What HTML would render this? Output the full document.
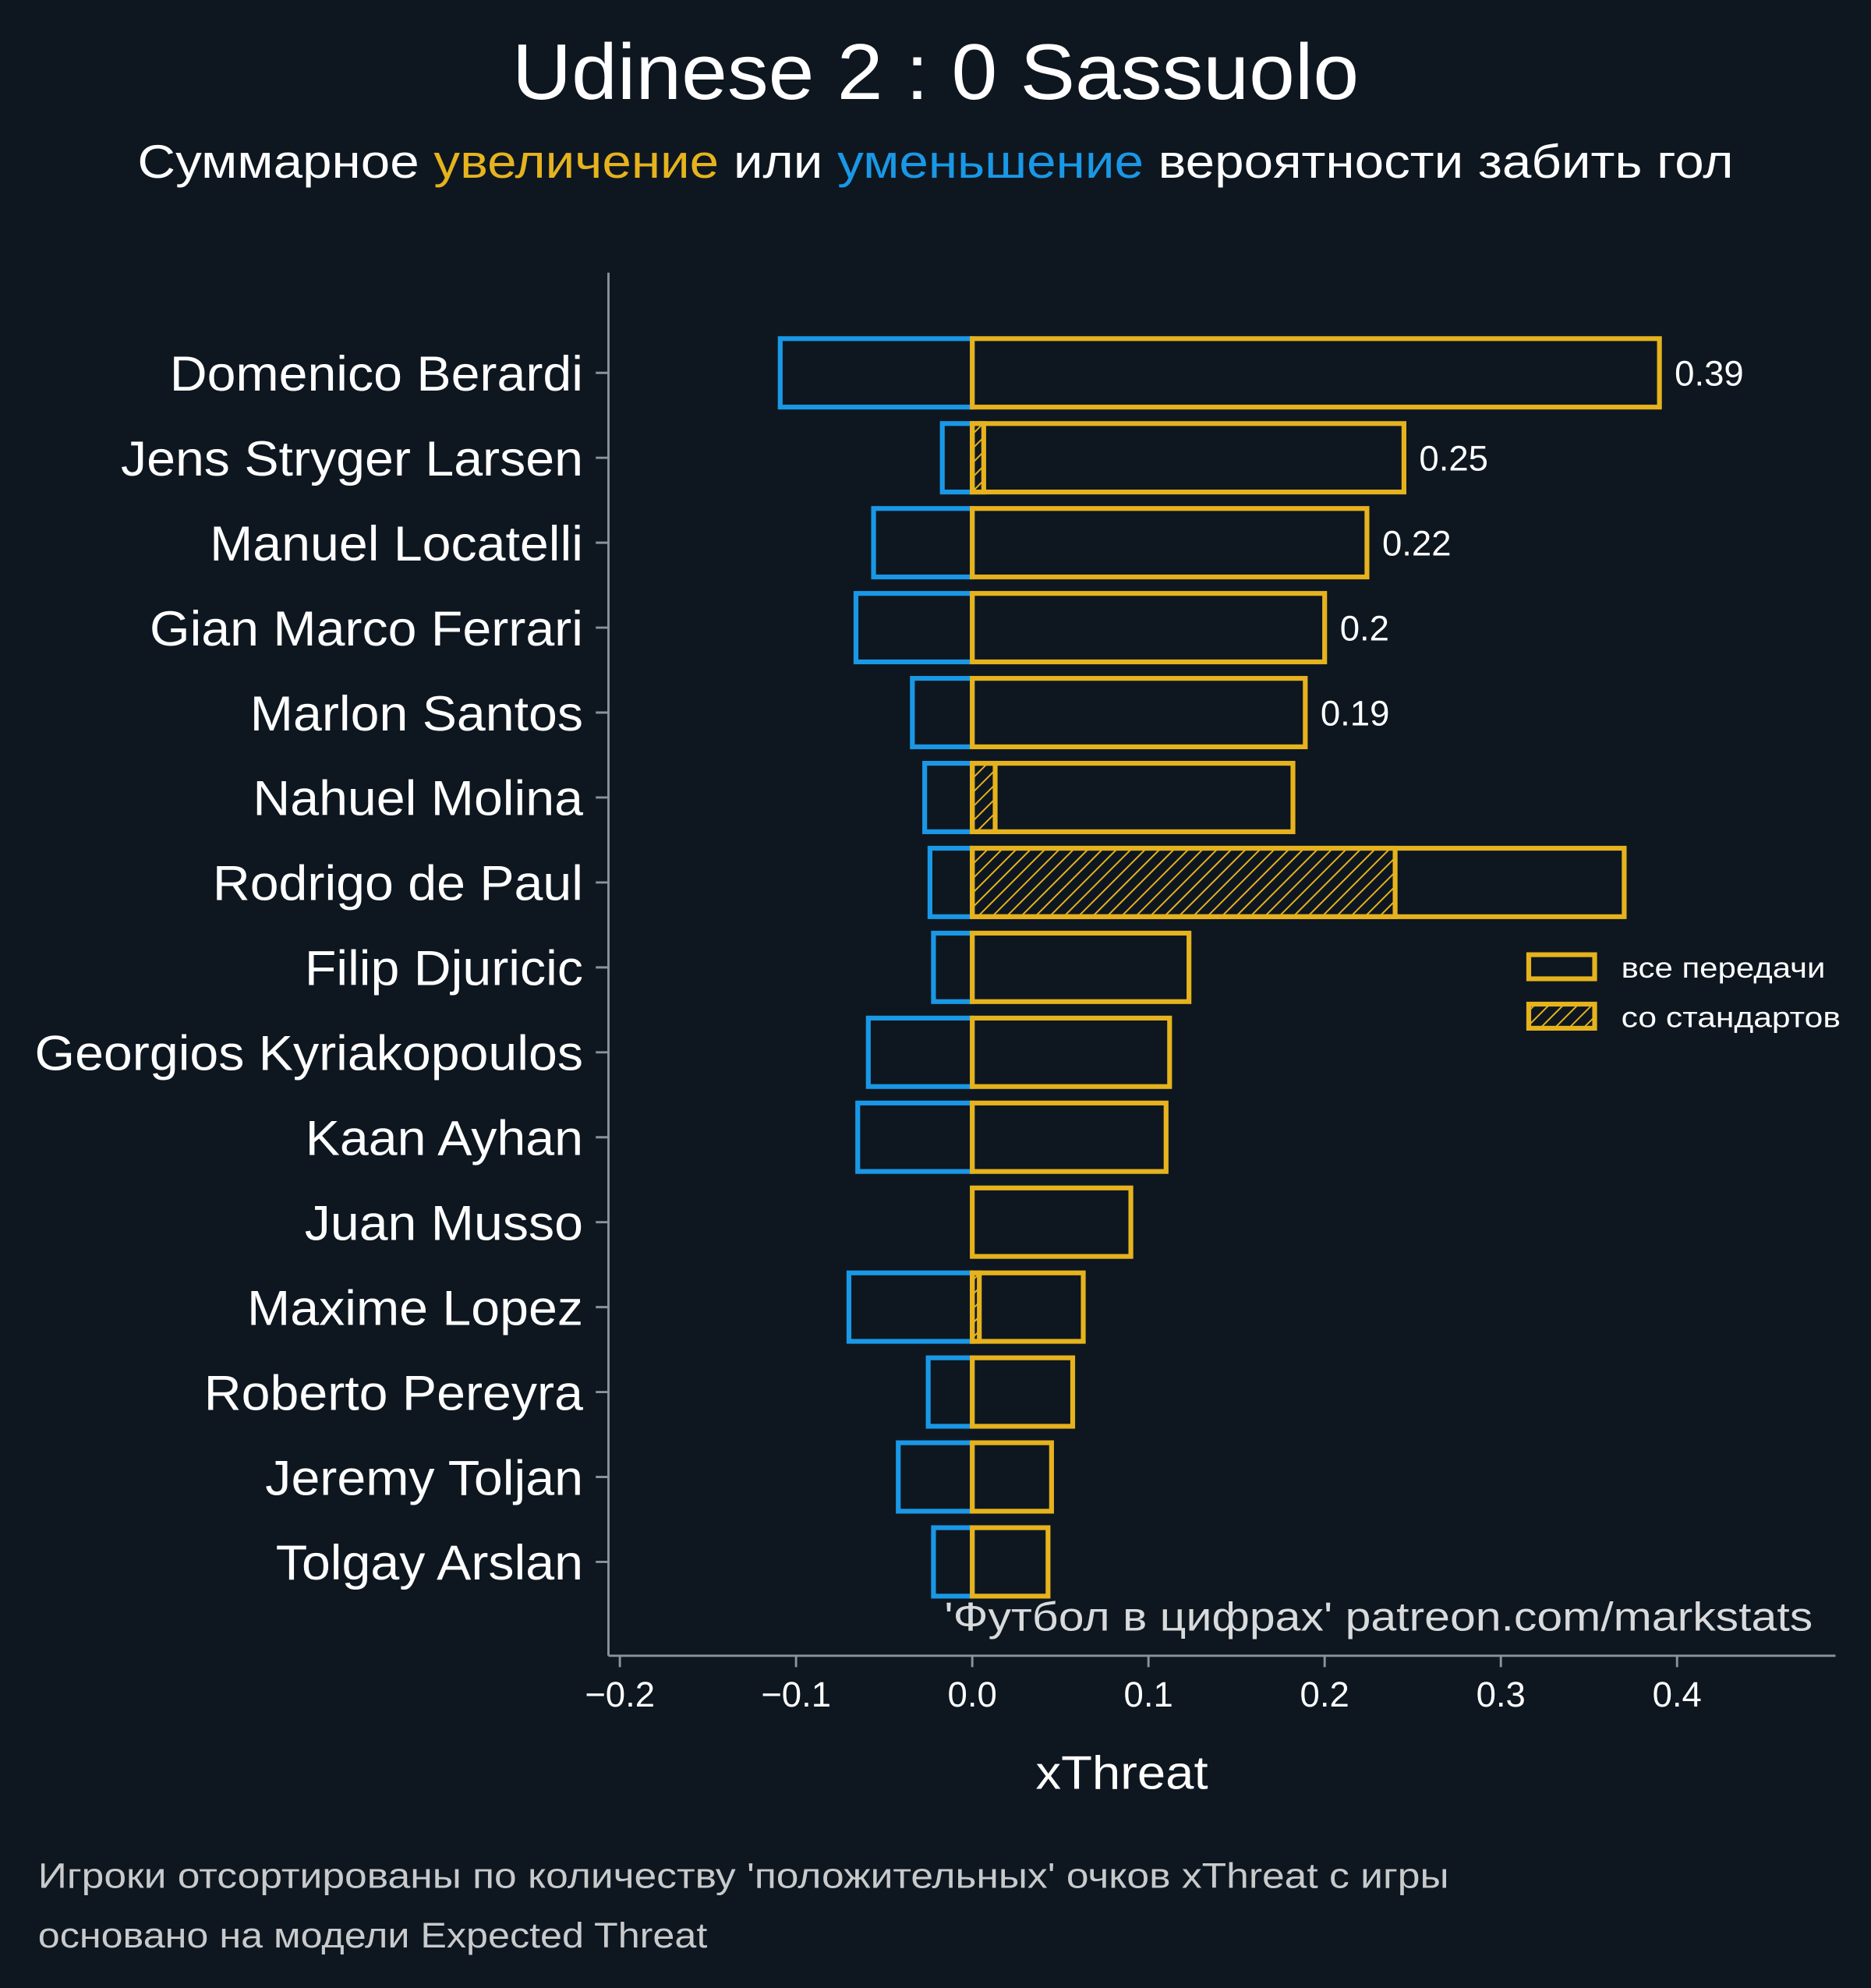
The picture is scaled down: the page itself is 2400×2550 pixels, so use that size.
<!DOCTYPE html>
<html><head><meta charset="utf-8"><style>
html,body{margin:0;padding:0;background:#0e1720;}
svg{display:block;}
text{font-family:"Liberation Sans","DejaVu Sans",sans-serif;}
</style></head><body>
<svg id="chart" width="2400" height="2550" viewBox="0 0 1476 1568" xmlns="http://www.w3.org/2000/svg">
<defs>
<pattern id="hatch" patternUnits="userSpaceOnUse" width="8" height="8" patternTransform="rotate(45)">
<line x1="0" y1="0" x2="0" y2="8" stroke="#e6b31e" stroke-width="2.4"/>
</pattern>
</defs>
<rect width="1476" height="1568" fill="#0e1720"/>
<text x="738" y="78" text-anchor="middle" fill="#ffffff" font-size="62" textLength="668" lengthAdjust="spacingAndGlyphs">Udinese 2 : 0 Sassuolo</text>
<text x="738" y="140" text-anchor="middle" fill="#ffffff" font-size="37" textLength="1259" lengthAdjust="spacingAndGlyphs">Суммарное <tspan fill="#e6b31e">увеличение</tspan> или <tspan fill="#1a98e6">уменьшение</tspan> вероятности забить гол</text>
<g id="plot"></g>
<line x1="480" y1="215" x2="480" y2="1306" stroke="#8a939b" stroke-width="1.8"/>
<line x1="480" y1="1306" x2="1448" y2="1306" stroke="#8a939b" stroke-width="1.8"/>
<text x="885" y="1411" text-anchor="middle" fill="#ffffff" font-size="37" textLength="136" lengthAdjust="spacingAndGlyphs">xThreat</text>
<text x="745" y="1286" fill="#d8dadc" font-size="32" textLength="685" lengthAdjust="spacingAndGlyphs">'Футбол в цифрах' patreon.com/markstats</text>
<g>
<rect x="1206" y="753" width="52" height="19" fill="none" stroke="#e6b31e" stroke-width="3.8"/>
<text x="1279" y="771" fill="#ffffff" font-size="23" textLength="161" lengthAdjust="spacingAndGlyphs">все передачи</text>
<rect x="1206" y="792" width="52" height="19" fill="url(#hatch)" stroke="#e6b31e" stroke-width="3.8"/>
<text x="1279" y="810" fill="#ffffff" font-size="23" textLength="173" lengthAdjust="spacingAndGlyphs">со стандартов</text>
</g>
<text x="30" y="1489" fill="#c8cacc" font-size="28" textLength="1113" lengthAdjust="spacingAndGlyphs">Игроки отсортированы по количеству 'положительных' очков xThreat с игры</text>
<text x="30" y="1536" fill="#c8cacc" font-size="28" textLength="528" lengthAdjust="spacingAndGlyphs">основано на модели Expected Threat</text>
</svg>
<script>
const players = ["Domenico Berardi","Jens Stryger Larsen","Manuel Locatelli","Gian Marco Ferrari","Marlon Santos","Nahuel Molina","Rodrigo de Paul","Filip Djuricic","Georgios Kyriakopoulos","Kaan Ayhan","Juan Musso","Maxime Lopez","Roberto Pereyra","Jeremy Toljan","Tolgay Arslan"];
const positiveValues = [0.39,0.245,0.224,0.2,0.189,0.182,0.37,0.123,0.112,0.110,0.090,0.063,0.057,0.045,0.043];
const negativeValues = [-0.109,-0.017,-0.056,-0.066,-0.034,-0.027,-0.024,-0.022,-0.059,-0.065,0,-0.070,-0.025,-0.042,-0.022];
const setPieceValues = [0,0.0065,0,0,0,0.013,0.24,0,0,0,0,0.004,0,0,0];
const valueLabels = ["0.39","0.25","0.22","0.2","0.19","","","","","","","","","",""];
const xTicks = [-0.2,-0.1,0.0,0.1,0.2,0.3,0.4];
const xTickLabels = ["\u22120.2","\u22120.1","0.0","0.1","0.2","0.3","0.4"];

const NS="http://www.w3.org/2000/svg";
const plot=document.getElementById('plot');
const x=v=>767+v*1390;
const y=i=>294+i*67;
const BH=54;
function mk(tag,attrs,parent){const e=document.createElementNS(NS,tag);for(const k in attrs)e.setAttribute(k,attrs[k]);(parent||plot).appendChild(e);return e;}

players.forEach((p,i)=>{
  const cy=y(i);
  if(negativeValues[i]<0){
    const r=mk('rect',{x:x(negativeValues[i]),y:cy-BH/2,width:x(0)-x(negativeValues[i]),height:BH,fill:'none',stroke:'#1a98e6','stroke-width':3.8});
    
    
  }
  if(setPieceValues[i]>0){
    const s=mk('rect',{x:x(0),y:cy-BH/2,width:x(setPieceValues[i])-x(0),height:BH,fill:'url(#hatch)',stroke:'#e6b31e','stroke-width':3.8});
    
    
  }
  const r=mk('rect',{x:x(0),y:cy-BH/2,width:x(positiveValues[i])-x(0),height:BH,fill:'none',stroke:'#e6b31e','stroke-width':3.8});
  
  
  if(valueLabels[i]){
    const t=mk('text',{x:x(positiveValues[i])+12,y:cy+10,fill:'#ffffff','font-size':28});
    t.textContent=valueLabels[i];
    
    
  }
  const tk=mk('line',{x1:470,x2:480,y1:cy,y2:cy,stroke:'#8a939b','stroke-width':1.8});
  
  
  const lb=mk('text',{x:460,y:cy+14,'text-anchor':'end',fill:'#ffffff','font-size':39});
  lb.textContent=p;
  
  
  const w=lb.getComputedTextLength();
  lb.setAttribute('textLength',(w*1.045).toFixed(1));
  lb.setAttribute('lengthAdjust','spacingAndGlyphs');
});
xTicks.forEach((v,i)=>{
  const tk=mk('line',{x1:x(v),x2:x(v),y1:1306,y2:1315,stroke:'#8a939b','stroke-width':1.8});
  
  
  const t=mk('text',{x:x(v),y:1346,'text-anchor':'middle',fill:'#ffffff','font-size':28});
  t.textContent=xTickLabels[i];
  
  
});
</script>
</body></html>
